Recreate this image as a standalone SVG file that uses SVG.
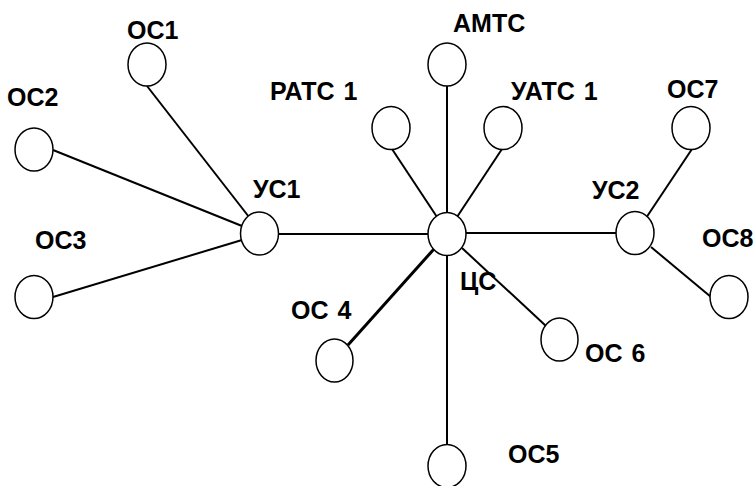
<svg xmlns="http://www.w3.org/2000/svg" width="756" height="486" viewBox="0 0 756 486">
<style>
.n{fill:#fff;stroke:#000;stroke-width:1.5}
.e{stroke:#000;stroke-width:2;fill:none}
.t{font-family:"Liberation Sans",Arial,sans-serif;font-weight:bold;font-size:25px;word-spacing:2px;fill:#000}
</style>
<rect width="756" height="486" fill="#fff"/>
<g id="connectors">
<line class="e" x1="147" y1="86" x2="249" y2="217"/>
<line class="e" x1="53" y1="150" x2="242" y2="226"/>
<line class="e" x1="53" y1="297" x2="242" y2="240"/>
<line class="e" x1="278" y1="234" x2="429" y2="234"/>
<line class="e" x1="465" y1="233" x2="617" y2="233"/>
<line class="e" x1="392" y1="149" x2="437" y2="217"/>
<line class="e" x1="447" y1="86" x2="447" y2="214"/>
<line class="e" x1="502" y1="149" x2="457" y2="217"/>
<line class="e" x1="692" y1="149" x2="646" y2="218"/>
<line class="e" x1="651" y1="247" x2="711" y2="297"/>
<line class="e" x1="434" y1="249" x2="348" y2="345" style="stroke-width:3"/>
<line class="e" x1="462" y1="248" x2="546" y2="326"/>
<line class="e" x1="447" y1="254" x2="447" y2="446"/>
</g>
<g id="OS1"><ellipse class="n" cx="147" cy="64.5" rx="19" ry="21.5"/><text class="t" x="127" y="39">ОС1</text></g>
<g id="OS2"><ellipse class="n" cx="34" cy="149.5" rx="19" ry="21.5"/><text class="t" x="7" y="106">ОС2</text></g>
<g id="OS3"><ellipse class="n" cx="34" cy="297" rx="19" ry="21.5"/><text class="t" x="35" y="249">ОС3</text></g>
<g id="US1"><ellipse class="n" cx="259.5" cy="233.5" rx="19" ry="21.5"/><text class="t" x="253" y="198">УС1</text></g>
<g id="RATS1"><ellipse class="n" cx="391" cy="128" rx="19" ry="21.5"/><text class="t" x="270" y="100">РАТС 1</text></g>
<g id="AMTS"><ellipse class="n" cx="447" cy="64.5" rx="19" ry="21.5"/><text class="t" x="453" y="32">АМТС</text></g>
<g id="UATS1"><ellipse class="n" cx="503" cy="128" rx="19" ry="21.5"/><text class="t" x="511" y="100">УАТС 1</text></g>
<g id="TsS"><ellipse class="n" cx="447" cy="234" rx="19" ry="21.5"/><text class="t" x="460" y="290">ЦС</text></g>
<g id="OS7"><ellipse class="n" cx="691" cy="128" rx="19" ry="21.5"/><text class="t" x="667" y="98">ОС7</text></g>
<g id="US2"><ellipse class="n" cx="635" cy="233" rx="19" ry="21.5"/><text class="t" x="592" y="199">УС2</text></g>
<g id="OS8"><ellipse class="n" cx="729" cy="297" rx="19" ry="21.5"/><text class="t" x="702" y="247">ОС8</text></g>
<g id="OS4"><ellipse class="n" cx="334.5" cy="360.5" rx="18.5" ry="21.5"/><text class="t" x="291" y="319">ОС 4</text></g>
<g id="OS6"><ellipse class="n" cx="559.5" cy="339.5" rx="18.5" ry="21.5"/><text class="t" x="585" y="362">ОС 6</text></g>
<g id="OS5"><ellipse class="n" cx="447" cy="466" rx="19" ry="21.5"/><text class="t" x="508" y="463">ОС5</text></g>
</svg>
